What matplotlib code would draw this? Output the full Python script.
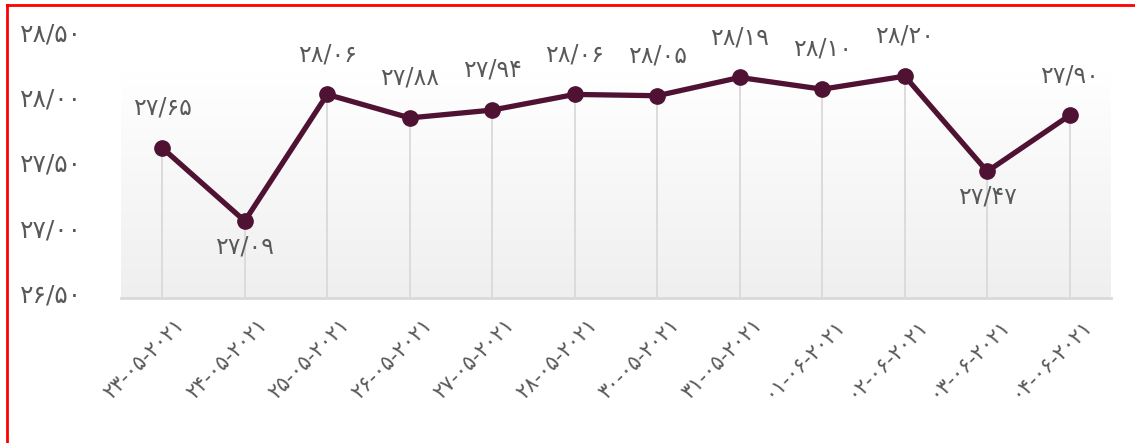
import matplotlib
matplotlib.use("Agg")
import matplotlib.pyplot as plt
import matplotlib.transforms as mtransforms
from matplotlib.lines import Line2D
import numpy as np

# ---- data ----
dates = ["23-05-2021", "24-05-2021", "25-05-2021", "26-05-2021", "27-05-2021",
         "28-05-2021", "30-05-2021", "31-05-2021", "01-06-2021", "02-06-2021",
         "03-06-2021", "04-06-2021"]
values = [27.65, 27.09, 28.06, 27.88, 27.94, 28.06, 28.05, 28.19, 28.10, 28.20, 27.47, 27.90]
label_below = [False, True, False, False, False, False, False, False, False, False, True, False]
yticks = [26.5, 27.0, 27.5, 28.0, 28.5]

FA = str.maketrans("0123456789", "۰۱۲۳۴۵۶۷۸۹")


def fa_num(v):
    return f"{v:.2f}".replace(".", "/").translate(FA)


plt.rcParams['font.family'] = ['DejaVu Sans']
TEXT = "#595959"
LINE = "#4f1233"
GRID = "#d9d9d9"

fig = plt.figure(figsize=(11.35, 4.43), dpi=100)
ax = fig.add_axes([121 / 1135, 145 / 443, 990 / 1135, 261 / 443])

x = np.arange(len(values))
ax.set_xlim(-0.5, len(values) - 0.5)
ax.set_ylim(26.5, 28.5)

# gradient background
n = 256
t = np.linspace(0, 1, n).reshape(-1, 1, 1)
top = np.array([1.0, 1.0, 1.0]).reshape(1, 1, 3)
bot = (np.array([0xef, 0xef, 0xef]) / 255).reshape(1, 1, 3)
cols = top * (1 - t) + bot * t
ax.imshow(cols, extent=[0, 1, 0, 0.866], transform=ax.transAxes,
          aspect='auto', zorder=0, interpolation='bilinear')

# drop lines
ax.vlines(x, 26.5, values, colors=GRID, linewidth=1.3, zorder=1)

ax.plot(x, values, color=LINE, linewidth=3.8, marker='o', markersize=11,
        zorder=3, solid_capstyle='round')

for xi, v, below in zip(x, values, label_below):
    if below:
        ax.annotate(fa_num(v), (xi, v), xytext=(0, -18), textcoords='offset points',
                    ha='center', va='center', fontsize=17, color=TEXT)
    else:
        ax.annotate(fa_num(v), (xi, v), xytext=(0, 29), textcoords='offset points',
                    ha='center', va='center', fontsize=17, color=TEXT)

ax.set_yticks(yticks)
ax.set_yticklabels([fa_num(t) for t in yticks], fontsize=18, color=TEXT)
ax.tick_params(axis='y', length=0, pad=28)
shift = mtransforms.ScaledTranslation(0, 5 / 100, fig.dpi_scale_trans)
for lbl in ax.get_yticklabels():
    lbl.set_transform(lbl.get_transform() + shift)

ax.set_xticks(x)
ax.set_xticklabels([d.translate(FA) for d in dates], fontsize=15, color=TEXT,
                   rotation=45, ha='right', rotation_mode='anchor')
ax.tick_params(axis='x', length=0, pad=12)
xshift = mtransforms.ScaledTranslation(12 / 100, 0, fig.dpi_scale_trans)
for lbl in ax.get_xticklabels():
    lbl.set_transform(lbl.get_transform() + xshift)

for s in ['left', 'right', 'top']:
    ax.spines[s].set_visible(False)
ax.spines['bottom'].set_color(GRID)
ax.spines['bottom'].set_linewidth(2)
ax.patch.set_alpha(0)

# red frame (left and top edges)
fig.add_artist(Line2D([6.5 / 1135, 6.5 / 1135], [0, 1 - 5 / 443], color='red',
                      linewidth=2, transform=fig.transFigure))
fig.add_artist(Line2D([6.5 / 1135, 1], [1 - 5 / 443, 1 - 5 / 443], color='red',
                      linewidth=2, transform=fig.transFigure))

fig.savefig("out.png", dpi=100)
